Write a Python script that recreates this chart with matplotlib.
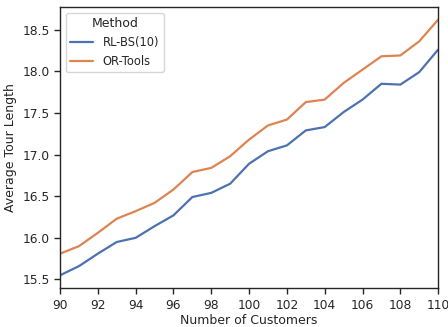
import matplotlib
matplotlib.use("Agg")
import matplotlib.pyplot as plt
import seaborn as sns
import numpy as np

sns.set_theme(style="ticks")
plt.rcParams['font.family'] = ['DejaVu Sans']

customers = np.arange(90, 111)
rl_bs = [15.55, 15.66, 15.81, 15.95, 16.00, 16.14, 16.27, 16.49, 16.54, 16.65, 16.89,
         17.04, 17.11, 17.29, 17.33, 17.51, 17.66, 17.85, 17.84, 17.99, 18.26]
or_tools = [15.81, 15.90, 16.06, 16.23, 16.32, 16.42, 16.58, 16.79, 16.84, 16.98, 17.18,
            17.35, 17.42, 17.63, 17.66, 17.86, 18.02, 18.18, 18.19, 18.36, 18.62]

fig = plt.figure(figsize=(4.48, 3.27), dpi=100)
ax = fig.add_axes([0.134, 0.119, 0.844, 0.86])

pal = sns.color_palette("deep")
ax.plot(customers, rl_bs, color=pal[0], lw=1.6, label="RL-BS(10)")
ax.plot(customers, or_tools, color=pal[1], lw=1.6, label="OR-Tools")

ax.set_xlim(90, 110)
ax.set_xticks(np.arange(90, 111, 2))
ax.set_yticks([15.5, 16.0, 16.5, 17.0, 17.5, 18.0, 18.5])
ax.tick_params(labelsize=8.8, length=4, width=1)
ax.set_xlabel("Number of Customers", fontsize=9, labelpad=2)
ax.set_ylabel("Average Tour Length", fontsize=9, labelpad=4)
for s in ax.spines.values():
    s.set_linewidth(1)

leg = ax.legend(title="Method", loc="upper left", fontsize=8.3, title_fontsize=9)

fig.savefig("out.png", dpi=100)
